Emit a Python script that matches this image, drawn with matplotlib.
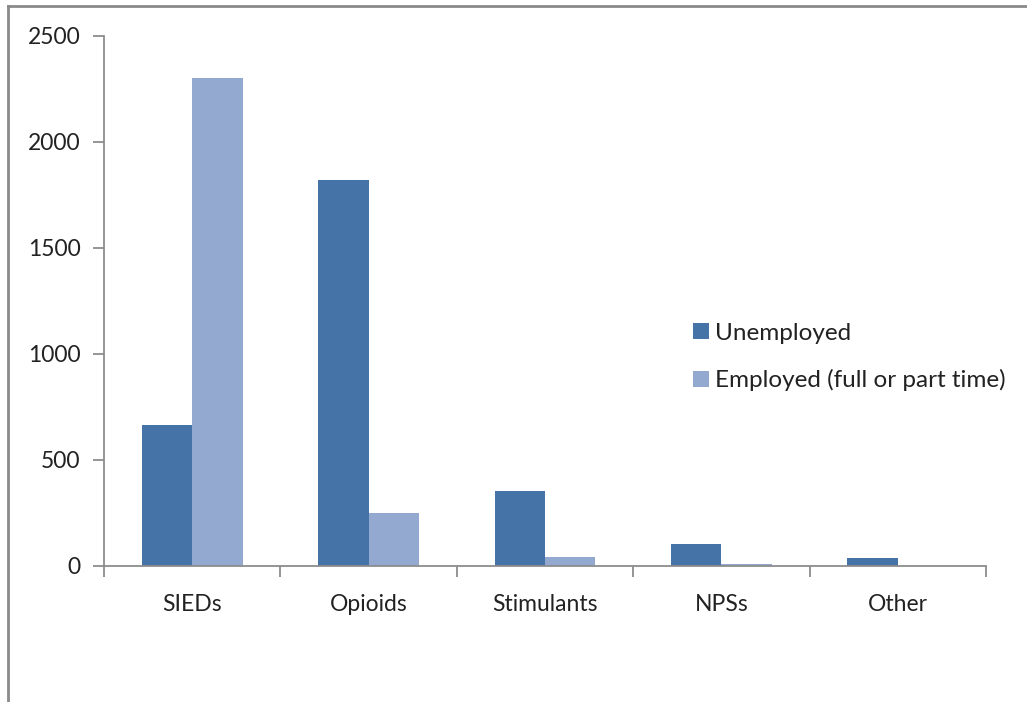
import matplotlib.pyplot as plt
import numpy as np
from matplotlib.lines import Line2D

# -- -----------------------------
categories = ['SIEDs', 'Opioids', 'Stimulants', 'NPSs', 'Other']
unemployed = [665, 1821, 354, 102, 36]
employed = [2300, 250, 41, 11, 2]
series_names = ['Unemployed', 'Employed (full or part time)']
y_ticks = [0, 500, 1000, 1500, 2000, 2500]
# -- -----------------------------

C_UNEMP = '#4572A7'
C_EMP = '#93A9CF'
AXIS_GRAY = '#8C8C8C'
FS = 16.5

plt.rcParams['font.family'] = ['Lato', 'DejaVu Sans']

fig = plt.figure(figsize=(10.27, 7.02), dpi=100)
W, H = 1027, 702
ax = fig.add_axes([104 / W, 1 - 566 / H, (986 - 104) / W, (566 - 36) / H])

x = np.arange(len(categories))
bw = 1 / 3.5  # gap width 150%

ax.bar(x - bw / 2, unemployed, width=bw, color=C_UNEMP, label=series_names[0])
ax.bar(x + bw / 2, employed, width=bw, color=C_EMP, label=series_names[1])

ax.set_xlim(-0.5, len(categories) - 0.5)
ax.set_ylim(0, 2500)
ax.set_yticks(y_ticks)
ax.set_yticklabels([str(v) for v in y_ticks], fontsize=FS, color='#222222')

# category ticks sit between groups, labels at group centres
ax.set_xticks(np.arange(len(categories) + 1) - 0.5)
ax.set_xticklabels([])
ax.set_xticks(x, minor=True)
ax.set_xticklabels(categories, minor=True, fontsize=FS, color='#222222')
ax.tick_params(axis='x', which='minor', length=0, pad=20)
ax.tick_params(axis='x', which='major', length=8, width=1.3, color=AXIS_GRAY)
ax.tick_params(axis='y', length=8, width=1.3, color=AXIS_GRAY, pad=9)

for s in ['top', 'right']:
    ax.spines[s].set_visible(False)
for s in ['left', 'bottom']:
    ax.spines[s].set_color(AXIS_GRAY)
    ax.spines[s].set_linewidth(1.3)

leg = fig.legend(
    loc='upper left',
    bbox_to_anchor=(683 / W, 1 - 313 / H),
    frameon=False,
    fontsize=17.5,
    handlelength=0.65,
    handleheight=0.65,
    handletextpad=0.25,
    labelspacing=1.05,
    borderaxespad=0,
)
for t in leg.get_texts():
    t.set_color('#222222')

# outer chart frame
fig.add_artist(Line2D([8 / W, 1], [1 - 5.5 / H, 1 - 5.5 / H], color='#8A8A8A',
                      lw=2, transform=fig.transFigure))
fig.add_artist(Line2D([8 / W, 8 / W], [0, 1 - 5.5 / H], color='#8A8A8A',
                      lw=2, transform=fig.transFigure))

fig.savefig('out.png', dpi=100, facecolor='white')
